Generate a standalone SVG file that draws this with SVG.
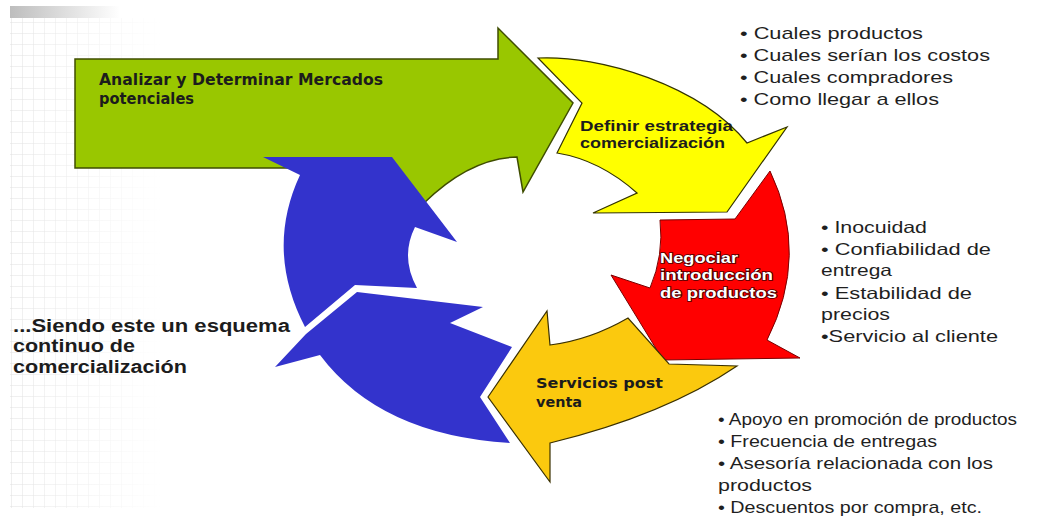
<svg xmlns="http://www.w3.org/2000/svg" width="1042" height="520" viewBox="0 0 1042 520">
  <defs>
    <style>
      .lbl { font-family: "Liberation Sans", Arial, sans-serif; font-weight: bold; fill: #1c1c1c; }
      .vlbl { font-family: "DejaVu Sans", Verdana, sans-serif; font-weight: bold; fill: #1c1c1c; }
      .inv { font-family: "Liberation Sans", Arial, sans-serif; font-weight: bold; fill: #ffffff; stroke: #4a0000; stroke-width: 1.6px; paint-order: stroke; }
      .note { font-family: "Liberation Sans", Arial, sans-serif; fill: #1f1f1f; }
      .shape { stroke-linejoin: miter; }
    </style>
    <pattern id="grid" width="11" height="11" patternUnits="userSpaceOnUse">
      <path d="M11 0H0V11" fill="none" stroke="#d9d9d9" stroke-width="1"/>
    </pattern>
    <linearGradient id="gridFade" x1="0" y1="0" x2="1" y2="0">
      <stop offset="0" stop-color="#fff" stop-opacity="0.85"/>
      <stop offset="0.6" stop-color="#fff" stop-opacity="0.35"/>
      <stop offset="1" stop-color="#fff" stop-opacity="0"/>
    </linearGradient>
    <mask id="gridMask">
      <rect x="10" y="18" width="150" height="490" fill="url(#gridFade)"/>
    </mask>
    <linearGradient id="cornerBar" x1="0" y1="0" x2="1" y2="0">
      <stop offset="0" stop-color="#bdbdbd"/>
      <stop offset="1" stop-color="#ffffff"/>
    </linearGradient>
  </defs>

  <!-- page background -->
  <rect width="1042" height="520" fill="#ffffff"/>
  <rect x="10" y="18" width="150" height="490" fill="url(#grid)" mask="url(#gridMask)"/>
  <rect x="10" y="6" width="110" height="12" fill="url(#cornerBar)"/>

  <!-- cycle arrows -->
  <g id="step-analizar">
    <path class="shape" d="M75 59 H498 V28 L573 103 L523 192 L517 157 Q470 158 424 203 L395 175 L380 168 H75 Z"
          fill="#99c700" stroke="#3f4d00" stroke-width="1.5"/>
    <text class="vlbl" font-size="15" x="99" y="85" textLength="284" lengthAdjust="spacingAndGlyphs">Analizar y Determinar Mercados</text>
    <text class="vlbl" font-size="15" x="99" y="104" textLength="95" lengthAdjust="spacingAndGlyphs">potenciales</text>
  </g>

  <g id="step-volver-arriba">
    <path class="shape" d="M263 157 H392 L457 242 L415 227 Q400 257 417 288 L355 285 L305 327 Q265 250 300 175 Z"
          fill="#3333cc"/>
  </g>

  <g id="step-volver-abajo">
    <path class="shape" d="M275 367 L306 334 L357 292 L483 307 L450 323 L512 347 L480 397 L510 443 Q380 435 320 355 Z"
          fill="#3333cc"/>
  </g>

  <g id="step-definir">
    <path class="shape" d="M538 58 C600 55 700 85 747 143 L787 127 L727 212 L593 213 L637 193 Q600 160 557 153 L582 103 Z"
          fill="#ffff00" stroke="#333300" stroke-width="1.2"/>
    <text class="lbl" font-size="15" x="580" y="131" textLength="153" lengthAdjust="spacingAndGlyphs">Definir estrategia</text>
    <text class="lbl" font-size="15" x="580" y="148" textLength="145" lengthAdjust="spacingAndGlyphs">comercialización</text>
  </g>

  <g id="step-negociar">
    <path class="shape" d="M660 220 L735 219 L770 171 Q810 255 767 340 L800 358 L663 360 L611 275 L650 288 Q664 255 660 220 Z"
          fill="#ff0000" stroke="#7a0000" stroke-width="1"/>
    <text class="inv" font-size="14" x="660" y="263" textLength="78" lengthAdjust="spacingAndGlyphs">Negociar</text>
    <text class="inv" font-size="14" x="660" y="280" textLength="113" lengthAdjust="spacingAndGlyphs">introducción</text>
    <text class="inv" font-size="14" x="660" y="298" textLength="117" lengthAdjust="spacingAndGlyphs">de productos</text>
  </g>

  <g id="step-servicios">
    <path class="shape" d="M488 397 L547 311 L550 345 Q590 340 628 318 L669 364 L737 366 Q665 415 550 443 L550 482 Z"
          fill="#fbc90e" stroke="#3a3000" stroke-width="1.2"/>
    <text class="vlbl" font-size="14" x="536" y="388" textLength="127" lengthAdjust="spacingAndGlyphs">Servicios post</text>
    <text class="vlbl" font-size="14" x="536" y="407" textLength="46" lengthAdjust="spacingAndGlyphs">venta</text>
  </g>

  <!-- side notes -->
  <g id="note-estrategia" class="note" font-size="17">
    <text x="740" y="39" textLength="183" lengthAdjust="spacingAndGlyphs">• Cuales productos</text>
    <text x="740" y="61" textLength="250" lengthAdjust="spacingAndGlyphs">• Cuales serían los costos</text>
    <text x="740" y="83" textLength="213" lengthAdjust="spacingAndGlyphs">• Cuales compradores</text>
    <text x="740" y="105" textLength="199" lengthAdjust="spacingAndGlyphs">• Como llegar a ellos</text>
  </g>

  <g id="note-negociar" class="note" font-size="16.5">
    <text x="821" y="233" textLength="106" lengthAdjust="spacingAndGlyphs">• Inocuidad</text>
    <text x="821" y="255" textLength="170" lengthAdjust="spacingAndGlyphs">• Confiabilidad de</text>
    <text x="821" y="276" textLength="71" lengthAdjust="spacingAndGlyphs">entrega</text>
    <text x="821" y="299" textLength="151" lengthAdjust="spacingAndGlyphs">• Estabilidad de</text>
    <text x="821" y="320" textLength="69" lengthAdjust="spacingAndGlyphs">precios</text>
    <text x="821" y="342" textLength="177" lengthAdjust="spacingAndGlyphs">•Servicio al cliente</text>
  </g>

  <g id="note-servicios" class="note" font-size="17">
    <text x="718" y="425" textLength="299" lengthAdjust="spacingAndGlyphs">• Apoyo en promoción de productos</text>
    <text x="718" y="447" textLength="219" lengthAdjust="spacingAndGlyphs">• Frecuencia de entregas</text>
    <text x="718" y="469" textLength="275" lengthAdjust="spacingAndGlyphs">• Asesoría relacionada con los</text>
    <text x="718" y="491" textLength="94" lengthAdjust="spacingAndGlyphs">productos</text>
    <text x="718" y="513" textLength="264" lengthAdjust="spacingAndGlyphs">• Descuentos por compra, etc.</text>
  </g>

  <g id="note-ciclo" class="lbl" font-size="18">
    <text x="13" y="332" textLength="277" lengthAdjust="spacingAndGlyphs">...Siendo este un esquema</text>
    <text x="13" y="352" textLength="122" lengthAdjust="spacingAndGlyphs">continuo de</text>
    <text x="13" y="373" textLength="174" lengthAdjust="spacingAndGlyphs">comercialización</text>
  </g>
</svg>
